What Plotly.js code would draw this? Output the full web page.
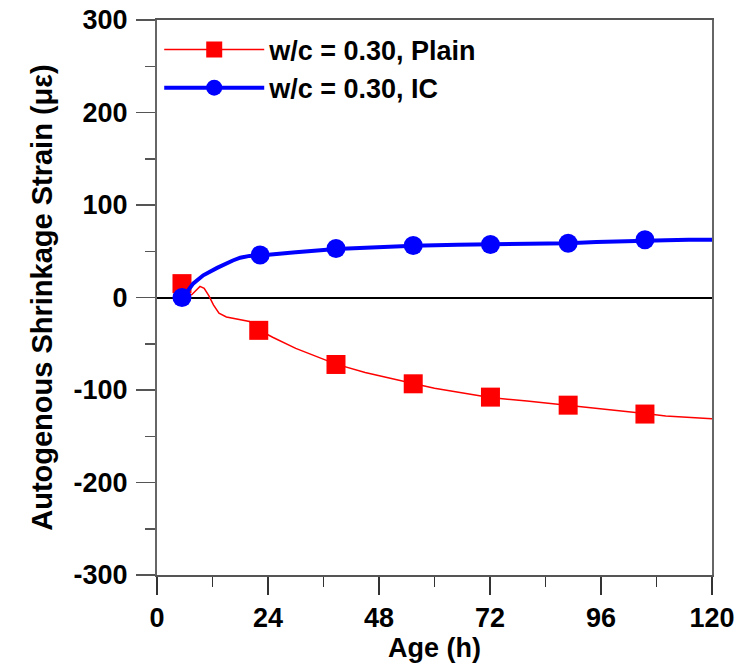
<!DOCTYPE html>
<html>
<head>
<meta charset="utf-8">
<script src="https://cdn.plot.ly/plotly-3.0.1.min.js"></script>
<style>html,body{margin:0;padding:0;background:#fff;}#chart{width:741px;height:666px;}</style>
</head>
<body>
<div id="chart"></div>
<script>
// Plain (w/c = 0.30) measured curve
const plainAge =    [5.4, 6.5, 7.5, 8.5, 9.3, 10.2, 11.2, 12.2, 13.4, 15, 17, 20, 22, 25, 30, 35, 38.7, 45, 50, 55.4, 60, 65, 72, 80, 88.9, 95, 100, 105.5, 110, 115, 120];
const plainStrain = [15, 4, 3, 8, 12, 10, 2, -8, -17, -21, -23, -26, -35, -43, -55, -65, -72, -81, -87, -93, -98, -102, -108, -112, -116.5, -120, -122, -125.5, -128, -129.5, -131];
// Plain marker points
const plainMarkAge =    [5.4, 22.0, 38.7, 55.4, 72.1, 88.9, 105.5];
const plainMarkStrain = [15, -35.5, -72.4, -93.3, -107.7, -116.4, -126];

// IC (w/c = 0.30) measured curve
const icAge =    [5.4, 6.5, 7.8, 10, 13, 15, 16.4, 18, 20, 22.3, 26, 30, 38.7, 45, 55.4, 65, 72.1, 80, 88.9, 95, 105.5, 110, 115, 120];
const icStrain = [0, 6, 15, 24, 32, 37, 40, 43, 45, 45.5, 47.5, 49, 52.5, 54, 56, 57, 57.3, 58, 58.7, 60, 62, 62, 62.5, 62.5];
// IC marker points
const icMarkAge =    [5.4, 22.3, 38.7, 55.4, 72.1, 88.9, 105.5];
const icMarkStrain = [0, 46, 53, 56.2, 57.3, 58.7, 62.5];

const seriesNames = ['w/c = 0.30, Plain', 'w/c = 0.30, IC'];
const xTicks = [0, 24, 48, 72, 96, 120];
const yTicks = [-300, -200, -100, 0, 100, 200, 300];

const RED = '#ff0000', BLUE = '#0000ff';
const FONT = 'Liberation Sans, Arial, sans-serif';

const traces = [
  {x: plainAge, y: plainStrain, mode: 'lines', line: {color: RED, width: 1.5}, showlegend: false, hoverinfo: 'skip'},
  {x: plainMarkAge, y: plainMarkStrain, mode: 'markers', marker: {symbol: 'square', size: 19, color: RED}, showlegend: false},
  {x: icAge, y: icStrain, mode: 'lines', line: {color: BLUE, width: 4}, showlegend: false, hoverinfo: 'skip'},
  {x: icMarkAge, y: icMarkStrain, mode: 'markers', marker: {symbol: 'circle', size: 19, color: BLUE}, showlegend: false},
  {x: [null], y: [null], name: seriesNames[0], mode: 'lines+markers', line: {color: RED, width: 1.5}, marker: {symbol: 'square', size: 19, color: RED}},
  {x: [null], y: [null], name: seriesNames[1], mode: 'lines+markers', line: {color: BLUE, width: 4}, marker: {symbol: 'circle', size: 19, color: BLUE}}
];

const layout = {
  width: 741, height: 666,
  margin: {l: 157, r: 29, t: 20, b: 91},
  paper_bgcolor: '#fff', plot_bgcolor: '#fff',
  font: {family: FONT, color: '#000', size: 27, weight: 'bold'},
  showlegend: true,
  legend: {x: 0.004, y: 0.99, xanchor: 'left', yanchor: 'top', bgcolor: 'rgba(0,0,0,0)',
           font: {family: FONT, size: 27, weight: 'bold', color: '#000'}, itemwidth: 100, tracegroupgap: 0},
  xaxis: {
    range: [0, 120], tickvals: xTicks, ticktext: xTicks.map(String),
    ticks: 'outside', ticklen: 18, tickwidth: 1.5, tickcolor: '#333',
    minor: {tickvals: [12, 36, 60, 84, 108], ticks: 'outside', ticklen: 10, tickwidth: 1.5, tickcolor: '#333'},
    showline: true, linecolor: '#555', linewidth: 2, mirror: true,
    showgrid: false, zeroline: false,
    tickfont: {family: FONT, size: 27, weight: 'bold'},
    title: {text: 'Age (h)', font: {family: FONT, size: 27, weight: 'bold'}, standoff: 2}
  },
  yaxis: {
    range: [-300, 300], tickvals: yTicks, ticktext: yTicks.map(String),
    ticks: 'outside', ticklen: 19, tickwidth: 1.5, tickcolor: '#555',
    minor: {tickvals: [-250, -150, -50, 50, 150, 250], ticks: 'outside', ticklen: 10, tickwidth: 1.5, tickcolor: '#555'},
    showline: true, linecolor: '#666', linewidth: 2, mirror: true,
    showgrid: false, zeroline: true, zerolinecolor: '#000', zerolinewidth: 2,
    tickfont: {family: FONT, size: 27, weight: 'bold'},
    ticklabelstandoff: 3,
    title: {text: 'Autogenous Shrinkage Strain (με)', font: {family: FONT, size: 29, weight: 'bold'}, standoff: 12}
  }
};

Plotly.newPlot('chart', traces, layout, {displayModeBar: false, staticPlot: true});
</script>
</body>
</html>
